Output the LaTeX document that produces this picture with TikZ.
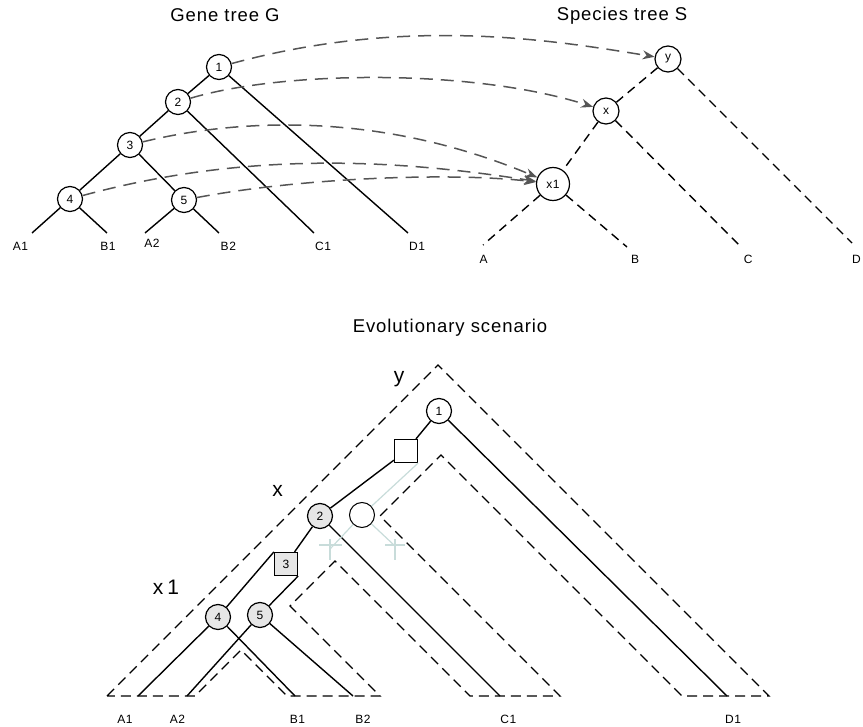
\documentclass[tikz,border=0pt]{standalone}
\usepackage{fontspec}
\setmainfont{Liberation Sans}[LetterSpace=5]
\usetikzlibrary{arrows.meta}
\definecolor{MapGray}{RGB}{85, 85, 85}
\definecolor{NodeGray}{RGB}{230, 230, 230}
\definecolor{LostCyan}{RGB}{200, 220, 218}
\tikzstyle{gnode} = [circle, draw, line width=1.2pt, fill=white, minimum size=25pt, inner sep=0pt, font=\fontsize{12}{14}\selectfont]
\tikzstyle{snode} = [gnode, minimum size=26pt]
\tikzstyle{spec} = [gnode, fill=NodeGray]
\tikzstyle{dup} = [rectangle, draw, line width=1.2pt, fill=white, minimum size=23pt, inner sep=0pt, font=\fontsize{12}{14}\selectfont]
\tikzstyle{branch} = [line width=1.4pt]
\tikzstyle{sbranch} = [line width=1.4pt, dash pattern=on 9pt off 6pt]
\tikzstyle{tube} = [line width=1.4pt, dash pattern=on 10pt off 6pt]
\tikzstyle{lost} = [line width=1.2pt, draw=LostCyan]
\tikzstyle{arrow} = [line width=1.5pt, draw=MapGray, dash pattern=on 13pt off 8pt, ->, >={Stealth[length=12pt,width=9pt]}]
\tikzstyle{leaf} = [font=\fontsize{12}{14}\selectfont]
\tikzstyle{title} = [anchor=base, font=\fontsize{18.5}{22}\selectfont]
\tikzstyle{big} = [font=\fontsize{21}{25}\selectfont\addfontfeature{LetterSpace=20}]

\begin{document}
\begin{tikzpicture}[x=1pt, y=-1pt]
\useasboundingbox (0,0) rectangle (863,727);

% Arbre de genes G
\node (gtitle) [title] at (225,21.3) {Gene tree G};
\node (g1) [gnode] at (219,67) {1};
\node (g2) [gnode] at (178,102) {2};
\node (g3) [gnode] at (130,145) {3};
\node (g4) [gnode] at (70,199) {4};
\node (g5) [gnode] at (184,200) {5};
\coordinate (gA1) at (32,233);
\coordinate (gB1) at (107,233);
\coordinate (gA2) at (145,233);
\coordinate (gB2) at (219,233);
\coordinate (gC1) at (314,233);
\coordinate (gD1) at (408,233);
\node (tA1) [leaf] at (20.5,246.7) {A1};
\node (tB1) [leaf] at (108,246.7) {B1};
\node (tA2) [leaf] at (152,243.3) {A2};
\node (tB2) [leaf] at (228.3,246.7) {B2};
\node (tC1) [leaf] at (323,246.7) {C1};
\node (tD1) [leaf] at (417,246.7) {D1};

\draw [branch] (g1) -- (g2);
\draw [branch] (g1) -- (gD1);
\draw [branch] (g2) -- (g3);
\draw [branch] (g2) -- (gC1);
\draw [branch] (g3) -- (g4);
\draw [branch] (g3) -- (g5);
\draw [branch] (g4) -- (gA1);
\draw [branch] (g4) -- (gB1);
\draw [branch] (g5) -- (gA2);
\draw [branch] (g5) -- (gB2);

% Arbre des especes S
\node (stitle) [title] at (622,20.7) {Species tree S};
\node (sy) [snode] at (668,59) {y};
\node (sx) [snode] at (606,111) {x};
\node (sx1) [snode, minimum size=33pt] at (553,184) {x1};
\coordinate (sA) at (483,245);
\coordinate (sB) at (627,247);
\coordinate (sC) at (742,248);
\coordinate (sD) at (852,243);
\node (tA) [leaf] at (483.7,259.5) {A};
\node (tB) [leaf] at (635,259.5) {B};
\node (tC) [leaf] at (748.3,259.5) {C};
\node (tD) [leaf] at (856.5,259.5) {D};

\draw [sbranch] (sy) -- (sx);
\draw [sbranch] (sy) -- (sD);
\draw [sbranch] (sx) -- (sx1);
\draw [sbranch] (sx) -- (sC);
\draw [sbranch] (sx1) -- (sA);
\draw [sbranch] (sx1) -- (sB);

% Associations
\draw [arrow] (g1) .. controls (406,16) and (552,40) .. (sy);
\draw [arrow] (g2) .. controls (281,71) and (471,68) .. (sx);
\draw [arrow] (g3) .. controls (228,121) and (372,108) .. (sx1);
\draw [arrow] (g4) .. controls (250,150) and (400,160) .. (sx1);
\draw [arrow] (g5) .. controls (300,178) and (450,172) .. (sx1);

% Scenario evolutif
\node (etitle) [title] at (450,333) {Evolutionary scenario};
\draw [tube] (107,696) -- (438,365) -- (769,696) -- (682,696) -- (441,455) -- (380,516)
  -- (560,696) -- (470,696) -- (335,561) -- (290,606) -- (380,696) -- (287,696)
  -- (241,650) -- (195,696) -- cycle;

\node (ly) [big] at (399,379) {y};
\node (lx) [big] at (277.5,491) {x};
\node (lx1) [big] at (166,587) {x1};

\node (n1) [gnode] at (439,411) {1};
\node (d1) [dup] at (406,451) {};
\node (n2) [spec] at (320,516) {2};
\node (d3) [dup, fill=NodeGray] at (286,564) {3};
\node (n4) [spec] at (218,617) {4};
\node (n5) [spec] at (260,615) {5};
\node (l1) [gnode, line width=1pt] at (362,515) {};
\coordinate (lA) at (330,549);
\coordinate (lB) at (395,546);
\coordinate (eA1) at (138,696);
\coordinate (eA2) at (187,696);
\coordinate (eB1) at (295,696);
\coordinate (eB2) at (353,696);
\coordinate (eC1) at (500,696);
\coordinate (eD1) at (727,696);
\node (uA1) [leaf] at (125,719) {A1};
\node (uA2) [leaf] at (177.5,719) {A2};
\node (uB1) [leaf] at (297.5,719) {B1};
\node (uB2) [leaf] at (363,719) {B2};
\node (uC1) [leaf] at (508.3,719) {C1};
\node (uD1) [leaf] at (733,719) {D1};

\draw [branch] (n1) -- (d1);
\draw [branch] (n1) -- (eD1);
\draw [branch] (d1) -- (n2);
\draw [branch] (n2) -- (d3);
\draw [branch] (n2) -- (eC1);
\draw [branch] (d3.north west) -- (n4);
\draw [branch] (d3.south east) -- (n5);
\draw [branch] (n4) -- (eA1);
\draw [branch] (n4) -- (eB1);
\draw [branch] (n5) -- (eA2);
\draw [branch] (n5) -- (eB2);

% Copie perdue
\draw [lost] (d1.south east) -- (l1);
\draw [lost] (l1) -- (lA);
\draw [lost] (l1) -- (lB);
\draw [lost] (319,545) -- (342,545) (330,539) -- (330,560);
\draw [lost] (385,545) -- (405,545) (395,539) -- (395,560);

\end{tikzpicture}
\end{document}
